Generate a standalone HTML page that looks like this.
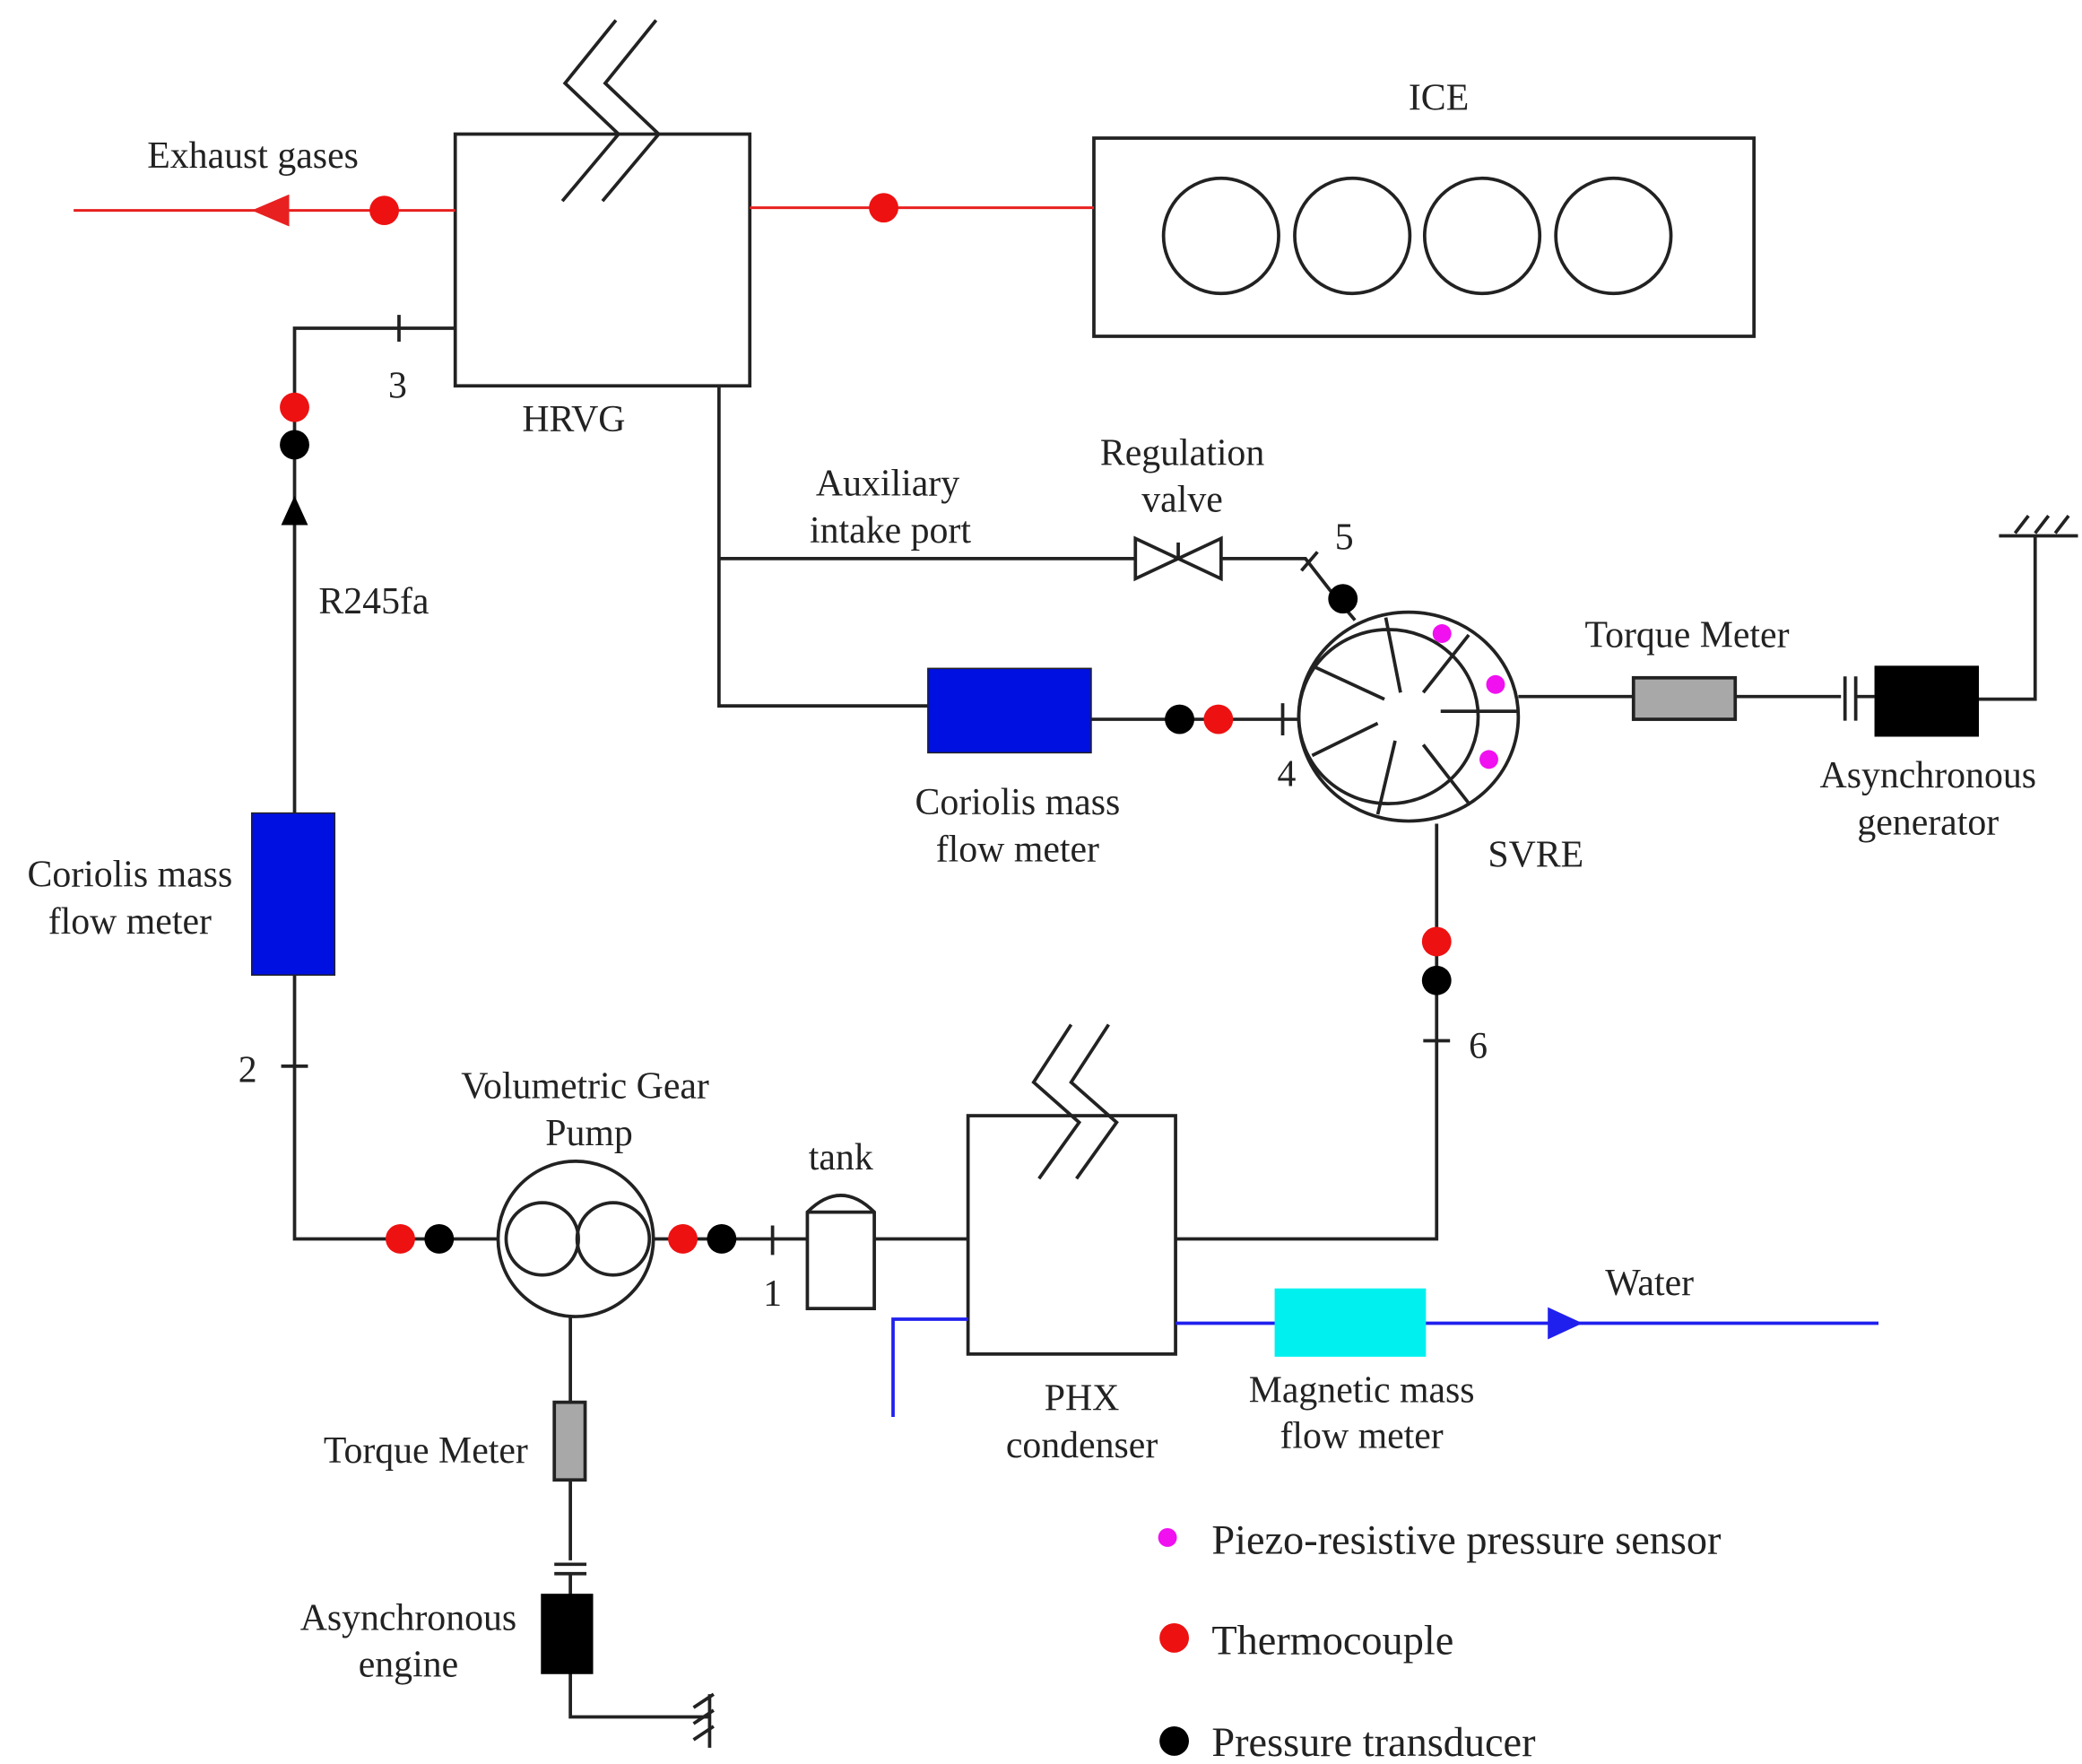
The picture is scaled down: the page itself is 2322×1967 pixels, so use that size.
<!DOCTYPE html>
<html><head><meta charset="utf-8"><style>html,body{margin:0;padding:0;background:#fff}svg{display:block}text{font-family:"Liberation Serif",serif;font-size:28px;fill:#222}</style></head>
<body>
<svg width="2322" height="1967" viewBox="0 0 1555 1317" xmlns="http://www.w3.org/2000/svg">
<g stroke="#222" stroke-width="2.5" fill="none">
<rect x="340" y="100" width="220" height="188"/>
<polyline points="460,15 422,62 462,100 420,150" />
<polyline points="490,15 452,62 492,100 450,150" />
<rect x="817" y="103" width="493" height="148"/>
<circle cx="912" cy="176" r="43"/><circle cx="1010" cy="176" r="43"/><circle cx="1107" cy="176" r="43"/><circle cx="1205" cy="176" r="43"/>
<polyline points="340,245 220,245 220,925 372,925"/>
<line x1="298" y1="235" x2="298" y2="255"/>
<line x1="210" y1="796" x2="230" y2="796"/>
<circle cx="430" cy="925" r="58"/>
<circle cx="405" cy="925" r="27"/><circle cx="458" cy="925" r="27"/>
<line x1="488" y1="925" x2="603" y2="925"/>
<line x1="577" y1="915" x2="577" y2="937"/>
<path d="M603,977 L603,905 Q628,880 653,905 L653,977 Z"/>
<line x1="603" y1="905" x2="653" y2="905"/>
<line x1="653" y1="925" x2="723" y2="925"/>
<rect x="723" y="833" width="155" height="178"/>
<polyline points="800,765 772,808 806,838 776,880"/>
<polyline points="828,765 800,808 834,838 804,880"/>
<polyline points="878,925 1073,925 1073,615"/>
<line x1="1063" y1="777" x2="1083" y2="777"/>
<line x1="426" y1="983" x2="426" y2="1165"/>
<line x1="414" y1="1168" x2="438" y2="1168"/><line x1="414" y1="1175" x2="438" y2="1175"/>
<polyline points="426,1175 426,1282 530,1282"/>
<line x1="530" y1="1265" x2="530" y2="1305"/>
<line x1="518" y1="1275" x2="533" y2="1265"/><line x1="518" y1="1287" x2="533" y2="1277"/><line x1="518" y1="1299" x2="533" y2="1289"/>
<polyline points="537,288 537,527 693,527"/>
<polyline points="537,417 848,417"/>
<path d="M848,402 L912,432 L912,402 L848,432 Z"/>
<line x1="880" y1="405" x2="880" y2="417"/>
<polyline points="912,417 975,417 996,444"/>
<line x1="972" y1="426" x2="984" y2="412"/>
<line x1="996" y1="444" x2="1012" y2="463"/>
<line x1="815" y1="537" x2="970" y2="537"/>
<line x1="958" y1="525" x2="958" y2="549"/>
<!-- SVRE -->
<ellipse cx="1052" cy="535" rx="82" ry="78"/>
<ellipse cx="1037" cy="535" rx="67" ry="65"/>
<line x1="1035" y1="461" x2="1046" y2="517"/>
<line x1="982" y1="498" x2="1034" y2="522"/>
<line x1="1097" y1="474" x2="1063" y2="517"/>
<line x1="1076" y1="531" x2="1134" y2="531"/>
<line x1="1063" y1="556" x2="1098" y2="601"/>
<line x1="980" y1="564" x2="1029" y2="540"/>
<line x1="1042" y1="553" x2="1029" y2="608"/>
<line x1="1134" y1="520" x2="1220" y2="520"/>
<rect x="1220" y="506" width="76" height="31" fill="#a8a8a8"/>
<line x1="1296" y1="520" x2="1375" y2="520"/>
<line x1="1378" y1="505" x2="1378" y2="538"/><line x1="1386" y1="505" x2="1386" y2="538"/>
<line x1="1386" y1="520" x2="1400" y2="520"/>
<polyline points="1478,522 1520,522 1520,400"/>
<line x1="1493" y1="400" x2="1552" y2="400"/>
<line x1="1505" y1="398" x2="1515" y2="385"/><line x1="1520" y1="398" x2="1530" y2="385"/><line x1="1535" y1="398" x2="1545" y2="385"/>
<rect x="414" y="1047" width="23" height="58" fill="#a8a8a8"/>
</g>
<g stroke="#e82020" stroke-width="2">
<line x1="55" y1="157" x2="340" y2="157"/>
<line x1="560" y1="155" x2="817" y2="155"/>
</g>
<polygon points="188,157 216,145 216,169" fill="#e82020"/>
<g stroke="#2020ee" stroke-width="2.5" fill="none">
<polyline points="667,1058 667,985 723,985"/>
<line x1="878" y1="988" x2="1403" y2="988"/>
</g>
<polygon points="1182,988 1156,976 1156,1000" fill="#2020ee"/>
<rect x="952" y="962" width="113" height="51" fill="#00f0f0"/>
<rect x="188" y="607" width="62" height="121" fill="#0010e0" stroke="#222"/>
<rect x="693" y="499" width="122" height="63" fill="#0010e0" stroke="#222"/>
<rect x="1400" y="497" width="78" height="53" fill="#000"/>
<rect x="404" y="1190" width="39" height="60" fill="#000"/>
<polygon points="220,370 210,392 230,392" fill="#000"/>
<g fill="#ee1111">
<circle cx="287" cy="157" r="11"/><circle cx="660" cy="155" r="11"/>
<circle cx="220" cy="304" r="11"/><circle cx="299" cy="925" r="11"/>
<circle cx="510" cy="925" r="11"/><circle cx="910" cy="537" r="11"/>
<circle cx="1073" cy="703" r="11"/><circle cx="877" cy="1223" r="11"/>
</g>
<g fill="#000">
<circle cx="220" cy="332" r="11"/><circle cx="328" cy="925" r="11"/>
<circle cx="539" cy="925" r="11"/><circle cx="881" cy="537" r="11"/>
<circle cx="1003" cy="447" r="11"/><circle cx="1073" cy="732" r="11"/>
<circle cx="877" cy="1300" r="11"/>
</g>
<g fill="#f010f0">
<circle cx="1077" cy="473" r="7"/><circle cx="1117" cy="511" r="7"/><circle cx="1112" cy="567" r="7"/>
<circle cx="872" cy="1148" r="7"/>
</g>
<text x="110" y="125">Exhaust gases</text>
<text x="1052" y="82">ICE</text>
<text x="390" y="322">HRVG</text>
<text x="290" y="297">3</text>
<text x="238" y="458">R245fa</text>
<text x="97" y="662" text-anchor="middle">Coriolis mass</text>
<text x="97" y="697" text-anchor="middle">flow meter</text>
<text x="178" y="808">2</text>
<text x="437" y="820" text-anchor="middle">Volumetric Gear</text>
<text x="440" y="855" text-anchor="middle">Pump</text>
<text x="628" y="873" text-anchor="middle">tank</text>
<text x="570" y="975">1</text>
<text x="808" y="1053" text-anchor="middle">PHX</text>
<text x="808" y="1088" text-anchor="middle">condenser</text>
<text x="1232" y="967" text-anchor="middle">Water</text>
<text x="1017" y="1047" text-anchor="middle">Magnetic mass</text>
<text x="1017" y="1081" text-anchor="middle">flow meter</text>
<text x="318" y="1092" text-anchor="middle">Torque Meter</text>
<text x="305" y="1217" text-anchor="middle">Asynchronous</text>
<text x="305" y="1252" text-anchor="middle">engine</text>
<text x="663" y="370" text-anchor="middle">Auxiliary</text>
<text x="665" y="405" text-anchor="middle">intake port</text>
<text x="883" y="347" text-anchor="middle">Regulation</text>
<text x="883" y="382" text-anchor="middle">valve</text>
<text x="997" y="410">5</text>
<text x="954" y="587">4</text>
<text x="760" y="608" text-anchor="middle">Coriolis mass</text>
<text x="760" y="643" text-anchor="middle">flow meter</text>
<text x="1147" y="647" text-anchor="middle">SVRE</text>
<text x="1097" y="790">6</text>
<text x="1260" y="483" text-anchor="middle">Torque Meter</text>
<text x="1440" y="588" text-anchor="middle">Asynchronous</text>
<text x="1440" y="623" text-anchor="middle">generator</text>
<text x="905" y="1160" style="font-size:31px">Piezo-resistive pressure sensor</text>
<text x="905" y="1235" style="font-size:31px">Thermocouple</text>
<text x="905" y="1311" style="font-size:31px">Pressure transducer</text>
</svg>
</body></html>
